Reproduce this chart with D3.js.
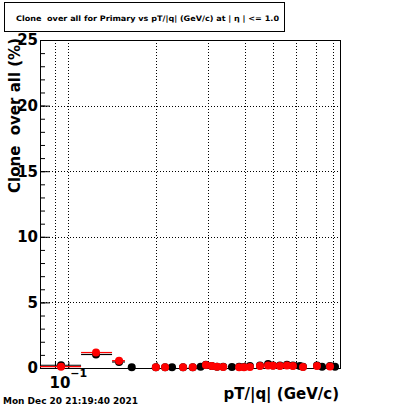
<!DOCTYPE html>
<html><head><meta charset="utf-8">
<script src="https://cdn.jsdelivr.net/npm/d3@7"></script>
<style>body{margin:0;background:#fff}svg{display:block}text{font-family:"DejaVu Sans",sans-serif;font-weight:bold}</style>
</head><body>
<svg id="c" width="400" height="409"></svg>
<script>
// bin centers (pT/|q|, GeV/c)
const ptCenters = [0.0944,0.1243,0.149,0.1646,0.199,0.214,0.226,0.2465,0.266,0.283,0.295,0.309,0.322,0.338,0.362,0.383,0.398,0.417,0.4515,0.481,0.500,0.528,0.558,0.585,0.618,0.633,0.707,0.7355,0.783,0.8145];
// bin edges for the wide low-pT bins (others are narrower than the markers)
const binLo = [0.080,0.1105,0.141];
const binHi = [0.1105,0.141,0.156];
// black series (clone over all, %)
const blackVals = [0.21,1.03,0.46,0.05,0.05,0.05,0.05,0.05,0.05,0.10,0.25,0.15,0.10,0.10,0.08,0.10,0.08,0.15,0.20,0.30,0.20,0.20,0.25,0.20,0.15,0.10,0.20,0.10,0.15,0.10];
// red series (null = empty bin)
const redVals = [0.10,1.18,0.56,null,0.05,0.05,null,0.05,0.05,null,0.23,0.15,0.10,0.08,null,0.06,0.06,0.08,0.15,0.20,0.18,0.15,0.20,0.15,null,0.08,0.15,null,0.12,null];
const yTicks = [0,5,10,15,20,25];
const xGrid = [0.09,0.1,0.2,0.3,0.4,0.5,0.6,0.7,0.8];
const titleText = "Clone  over all for Primary vs pT/|q| (GeV/c) at | η | <= 1.0";
const yTitle = "Clone  over all (%)";
const xTitle = "pT/|q| (GeV/c)";
const dateText = "Mon Dec 20 21:19:40 2021";

const svg = d3.select("#c");
const L=40,R=340,T=40,B=368;
const x = d3.scaleLog().domain([0.08,0.847]).range([L,R]);
const y = d3.scaleLinear().domain([0,25]).range([B,T]);

// grid
svg.append("g").selectAll("line").data(xGrid).join("line")
  .attr("x1",d=>Math.round(x(d))+0.5).attr("x2",d=>Math.round(x(d))+0.5)
  .attr("y1",T).attr("y2",B).attr("stroke","#000").attr("stroke-width",1).attr("stroke-dasharray","1,2");
svg.append("g").selectAll("line").data(yTicks.filter(d=>d>0&&d<25)).join("line")
  .attr("x1",L).attr("x2",R).attr("y1",d=>Math.round(y(d))+0.5).attr("y2",d=>Math.round(y(d))+0.5)
  .attr("stroke","#000").attr("stroke-width",1).attr("stroke-dasharray","1,2");

// y axis ticks (inside)
const yMaj = svg.append("g").attr("transform",`translate(${L},0)`)
  .call(d3.axisRight(y).tickValues(yTicks).tickSize(10).tickFormat(""));
const yMin = svg.append("g").attr("transform",`translate(${L},0)`)
  .call(d3.axisRight(y).tickValues(d3.range(0,26,1)).tickSize(5).tickFormat(""));
[yMaj,yMin].forEach(g=>{g.select(".domain").remove();g.selectAll("line").attr("stroke","#000");});
const yLab = svg.append("g").attr("transform",`translate(${L},0)`)
  .call(d3.axisLeft(y).tickValues(yTicks).tickSize(0).tickPadding(2).tickFormat(d3.format("d")));
yLab.select(".domain").remove();
yLab.selectAll("text").attr("font-size",15).attr("font-family","DejaVu Sans").attr("font-weight","bold").attr("fill","#000");

// x axis ticks
const xAx = svg.append("g").attr("transform",`translate(0,${B})`)
  .call(d3.axisTop(x).tickValues(xGrid).tickSize(6).tickFormat(""));
xAx.select(".domain").remove();
xAx.selectAll("line").attr("stroke","#000");

// frame
svg.append("rect").attr("x",L+0.5).attr("y",T+0.5).attr("width",R-L).attr("height",B-T)
  .attr("fill","none").attr("stroke","#000").attr("stroke-width",1);

// x label 10^-1
const xl = svg.append("text").attr("x",x(0.1)).attr("y",388).attr("text-anchor","middle").attr("font-size",15);
xl.append("tspan").text("10");
xl.append("tspan").attr("font-size",11).attr("dy",-11).text("\u22121");

// data
function drawSeries(vals,color){
  const g = svg.append("g");
  vals.forEach((v,i)=>{
    if(v===null) return;
    if(i<binLo.length){
      g.append("line").attr("x1",x(binLo[i])).attr("x2",x(binHi[i]))
        .attr("y1",y(v)).attr("y2",y(v)).attr("stroke",color).attr("stroke-width",1.2);
    }
  });
  g.selectAll("circle").data(vals.map((v,i)=>({v,p:ptCenters[i]})).filter(d=>d.v!==null)).join("circle")
    .attr("cx",d=>x(d.p)).attr("cy",d=>y(d.v)).attr("r",4).attr("fill",color);
}
drawSeries(blackVals,"#000");
drawSeries(redVals,"#ff0000");

// titles
svg.append("text").attr("x",339).attr("y",399).attr("text-anchor","end").attr("font-size",15).text(xTitle);
svg.append("text").attr("transform","translate(20,38) rotate(-90)").attr("text-anchor","end")
  .attr("font-size",15).style("white-space","pre").text(yTitle);

// title box
svg.append("rect").attr("x",4.5).attr("y",2.5).attr("width",280).attr("height",29)
  .attr("fill","#fff").attr("stroke","#000").attr("stroke-width",1);
svg.append("text").attr("x",16).attr("y",20.5).attr("font-size",7.5).style("white-space","pre")
  .attr("textLength",263).attr("lengthAdjust","spacingAndGlyphs").text(titleText);

// date
svg.append("text").attr("x",3).attr("y",404).attr("font-size",9.5)
  .attr("textLength",135).attr("lengthAdjust","spacingAndGlyphs").text(dateText);
</script>
</body></html>
